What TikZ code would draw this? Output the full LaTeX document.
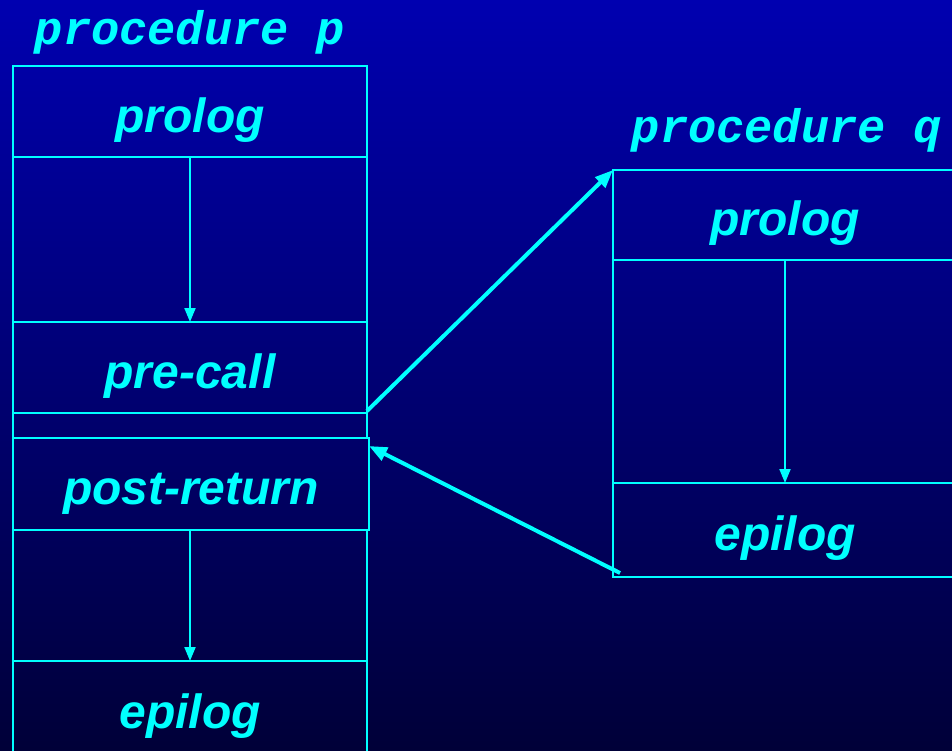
\documentclass[tikz,border=0pt]{standalone}
\usepackage{fontspec}
\setmainfont{Liberation Sans}
\newfontfamily\codefont{Liberation Mono}
\usetikzlibrary{arrows.meta,positioning}
\definecolor{slidecyan}{RGB}{0,255,255}
\definecolor{slidetop}{RGB}{0,0,176}
\definecolor{slidebottom}{RGB}{0,0,56}

\begin{document}
\begin{tikzpicture}
  [x=1pt,y=-1pt,
  part/.style={rectangle,draw=slidecyan,line width=2.5pt,inner sep=0,
                  outer sep=0,minimum width=354pt,text=slidecyan,
                  text height=41pt,text depth=0pt,
                  font=\fontsize{48}{52}\selectfont\bfseries\itshape},
  qpart/.style={part,minimum width=344pt},
  proctitle/.style={text=slidecyan,
                  font=\fontsize{47}{50}\selectfont\codefont\bfseries\itshape},
  edge/.style={draw=slidecyan,line width=2.5pt},
  flow/.style={draw=slidecyan,line width=2pt,
                  -{Triangle[length=14pt,width=11pt]}},
  link/.style={draw=slidecyan,line width=4pt,
                  -{Triangle[length=18pt,width=14pt]}}
                  ]
  \useasboundingbox (0,0) rectangle (952,750);
  \shade[top color=slidetop,bottom color=slidebottom] (0,0) rectangle (952,750);
  \clip (0,0) rectangle (952,750);

  % procedure p
  \node[proctitle] (ptitle) at (190,32) {procedure p};
  \node[part,minimum height=91pt] (pprolog) at (190,111.5) {prolog};
  \node[part,minimum height=165pt] (pbody1) at (190,239.5) {};
  \node[part,minimum height=91pt] (pprecall) at (190,367.5) {pre-call};
  \node[part,minimum width=356pt,minimum height=92pt] (ppost) at (191,484) {post-return};
  \node[part,minimum height=131pt] (pbody2) at (190,595.5) {};
  \node[part,minimum height=94pt] (pepilog) at (190,708) {epilog};
  \draw[edge] (pprecall.south west) to (pprecall.south west |- ppost.north);
  \draw[edge] (pprecall.south east) to (pprecall.south east |- ppost.north);
  \draw[flow] (pprolog.south) to (pprecall.north);
  \draw[flow] (ppost.south -| pbody2.north) to (pepilog.north);

  % procedure q
  \node[proctitle] (qtitle) at (787,130) {procedure q};
  \node[qpart,minimum height=90pt] (qprolog) at (785,215) {prolog};
  \node[qpart,minimum height=223pt] (qbody) at (785,371.5) {};
  \node[qpart,minimum height=94pt] (qepilog) at (785,530) {epilog};
  \draw[flow] (qprolog.south) to (qepilog.north);

  % call and return
  \coordinate (ret) at ([xshift=7pt,yshift=4pt]qepilog.south west);
  \draw[link] ([yshift=2pt]pprecall.south east) to (qprolog.north west);
  \draw[link] (ret) to ([yshift=-8pt]ppost.north east);
\end{tikzpicture}
\end{document}
